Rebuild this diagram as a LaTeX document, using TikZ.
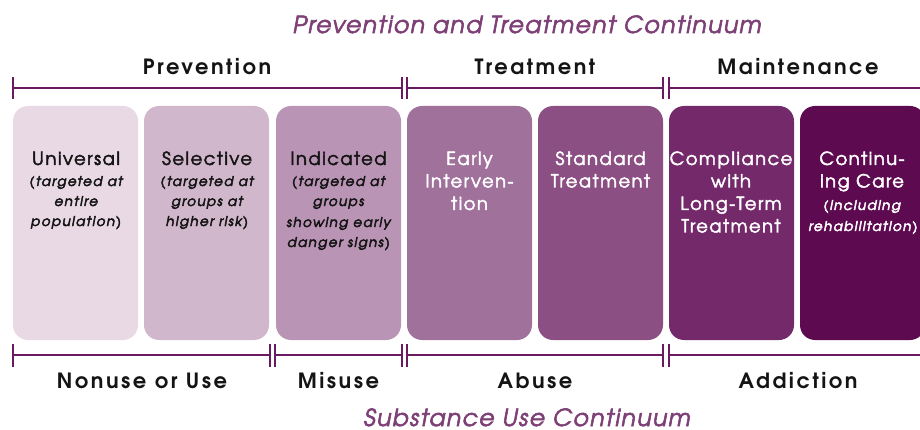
\documentclass[tikz,border=0pt]{standalone}
\usepackage{fontspec}
\newfontfamily\advH{texgyreadventor}[Extension=.otf,UprightFont=*-regular,BoldFont=*-bold,ItalicFont=*-italic,BoldItalicFont=*-bolditalic,LetterSpace=8,FakeBold=2.5]
\newfontfamily\advL{texgyreadventor}[Extension=.otf,UprightFont=*-regular,BoldFont=*-bold,ItalicFont=*-italic,BoldItalicFont=*-bolditalic,LetterSpace=12]
\newfontfamily\advS{texgyreadventor}[Extension=.otf,UprightFont=*-italic,LetterSpace=10,FakeBold=3.5]
\newfontfamily\advT{texgyreadventor}[Extension=.otf,UprightFont=*-italic,LetterSpace=6,FakeBold=2.5]
\definecolor{cA}{HTML}{E8D9E5}
\definecolor{cB}{HTML}{D1B7CC}
\definecolor{cC}{HTML}{B994B4}
\definecolor{cD}{HTML}{A0719B}
\definecolor{cE}{HTML}{8B4F83}
\definecolor{cF}{HTML}{742A6A}
\definecolor{cG}{HTML}{5D0A51}
\definecolor{lineC}{HTML}{6A1A5E}
\definecolor{titleC}{HTML}{7D3F76}
\definecolor{darkT}{HTML}{141414}
\tikzset{
  boxx/.style={rounded corners=15pt,minimum width=125pt,minimum height=234pt,inner sep=0pt,outer sep=0pt},
  head/.style={anchor=base,inner sep=0pt,font=\advH\fontsize{18}{22}\selectfont},
  sub/.style={anchor=base,inner sep=0pt,font=\advS\fontsize{13.5}{20}\selectfont},
  lab/.style={anchor=base,inner sep=0pt,text=darkT,font=\advL\fontsize{21}{24}\selectfont\bfseries},
  ttl/.style={anchor=base,inner sep=0pt,text=titleC,font=\advT\fontsize{23.5}{28}\selectfont},
  br/.style={draw=lineC,line width=1.5pt},
  tck/.style={draw=lineC,line width=1.3pt}
}
\begin{document}
\begin{tikzpicture}[x=1pt,y=-1pt]
\useasboundingbox (0,0) rectangle (920,430);
\clip (0,0) rectangle (920,430);
% boxes
\node[boxx,fill=cA] (b1) at (75.5,223) {};
\node[boxx,fill=cB] (b2) at (206.5,223) {};
\node[boxx,fill=cC] (b3) at (338.5,223) {};
\node[boxx,fill=cD] (b4) at (469.5,223) {};
\node[boxx,fill=cE] (b5) at (600.5,223) {};
\node[boxx,fill=cF] (b6) at (731.5,223) {};
\node[boxx,fill=cG] (b7) at (862.5,223) {};
% box texts
\node[head,text=darkT] (u1) at (76,165) {Universal};
\node[sub,text=darkT] (u2) at (76,186) {(targeted at};
\node[sub,text=darkT] (u3) at (76,206) {entire};
\node[sub,text=darkT] (u4) at (76,226) {population)};
\node[head,text=darkT] (s1) at (207,165) {Selective};
\node[sub,text=darkT] (s2) at (207,186) {(targeted at};
\node[sub,text=darkT] (s3) at (207,206) {groups at};
\node[sub,text=darkT] (s4) at (207,226) {higher risk)};
\node[head,text=darkT] (i1) at (338.5,165) {Indicated};
\node[sub,text=darkT] (i2) at (338.5,186) {(targeted at};
\node[sub,text=darkT] (i3) at (338.5,206) {groups};
\node[sub,text=darkT] (i4) at (338.5,227) {showing early};
\node[sub,text=darkT] (i5) at (338.5,247) {danger signs)};
\node[head,text=white] (e1) at (469.5,165) {Early};
\node[head,text=white] (e2) at (469.5,187.5) {Interven-};
\node[head,text=white] (e3) at (469.5,210) {tion};
\node[head,text=white] (t1) at (600.5,165) {Standard};
\node[head,text=white] (t2) at (600.5,187.5) {Treatment};
\node[head,text=white] (c1) at (731,165) {Compliance};
\node[head,text=white] (c2) at (731,187.5) {with};
\node[head,text=white] (c3) at (731,210) {Long-Term};
\node[head,text=white] (c4) at (731,232.5) {Treatment};
\node[head,text=white] (k1) at (862,165) {Continu-};
\node[head,text=white] (k2) at (862,187.5) {ing Care};
\node[sub,text=white] (k3) at (862,210) {(including};
\node[sub,text=white] (k4) at (863,231) {rehabilitation)};
% titles
\node[ttl] (top) at (527,33) {Prevention and Treatment Continuum};
\node[ttl] (bot) at (527,426) {Substance Use Continuum};
% top labels
\node[lab] (lp) at (207,75) {Prevention};
\node[lab] (lt) at (535,75) {Treatment};
\node[lab] (lm) at (798,75) {Maintenance};
% bottom labels
\node[lab] (ln) at (142,388) {Nonuse or Use};
\node[lab] (lmi) at (338.5,388) {Misuse};
\node[lab] (la) at (535,388) {Abuse};
\node[lab] (lad) at (798,388) {Addiction};
% top bracket
\coordinate (ta) at (13,88);
\coordinate (tb) at (402,88);
\coordinate (tc) at (407,88);
\coordinate (td) at (663,88);
\coordinate (te) at (669,88);
\coordinate (tf) at (921,88);
\draw[br] (ta) -- (tb);
\draw[br] (tc) -- (td);
\draw[br] (te) -- (tf);
\foreach \p in {ta,tb,tc,td,te}{\draw[tck] (\p) ++(0,-11) -- ++(0,22);}
% bottom bracket
\coordinate (ba) at (13,355);
\coordinate (bb) at (270,355);
\coordinate (bc) at (275,355);
\coordinate (bd) at (402,355);
\coordinate (be) at (407,355);
\coordinate (bf) at (663,355);
\coordinate (bg) at (669,355);
\coordinate (bh) at (921,355);
\draw[br] (ba) -- (bb);
\draw[br] (bc) -- (bd);
\draw[br] (be) -- (bf);
\draw[br] (bg) -- (bh);
\foreach \p in {ba,bb,bc,bd,be,bf,bg}{\draw[tck] (\p) ++(0,-11) -- ++(0,23);}
\end{tikzpicture}
\end{document}
